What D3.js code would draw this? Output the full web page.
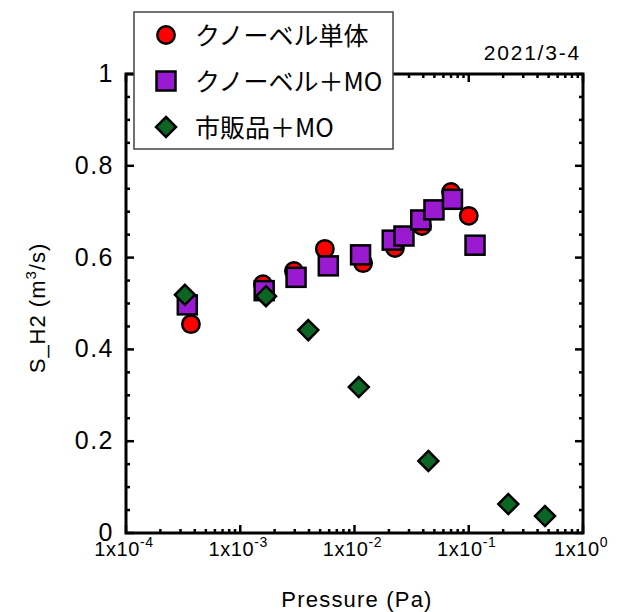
<!DOCTYPE html>
<html><head><meta charset="utf-8">
<script src="https://cdn.jsdelivr.net/npm/d3@7"></script>
<style>body{margin:0;background:#fff}svg{display:block}</style>
</head><body>
<svg id="c" width="619" height="612"></svg>
<script>
const seriesNames = ["クノーベル単体", "クノーベル＋MO", "市販品＋MO"];
const pressureSolo = [3.7e-4, 1.58e-3, 2.95e-3, 5.5e-3, 1.19e-2, 2.26e-2, 3.9e-2, 7.0e-2, 0.1];
const speedSolo    = [0.455, 0.542, 0.571, 0.619, 0.588, 0.621, 0.669, 0.743, 0.691];
const pressureMO   = [3.44e-4, 1.62e-3, 3.08e-3, 5.9e-3, 1.13e-2, 2.14e-2, 2.71e-2, 3.8e-2, 4.96e-2, 7.2e-2, 0.1135];
const speedMO      = [0.497, 0.528, 0.557, 0.582, 0.606, 0.638, 0.647, 0.682, 0.704, 0.727, 0.627];
const pressureCom  = [3.28e-4, 1.68e-3, 3.94e-3, 1.09e-2, 4.43e-2, 0.222, 0.465];
const speedCom     = [0.519, 0.516, 0.442, 0.318, 0.157, 0.063, 0.037];
const xTickExps = [-4, -3, -2, -1, 0];
const yTicks = [0, 0.2, 0.4, 0.6, 0.8, 1];

const svg = d3.select("#c");
const L = 126, R = 583, T = 74, B = 533;
const x = d3.scaleLog().domain([1e-4, 1]).range([L, R]);
const y = d3.scaleLinear().domain([0, 1]).range([B, T]);
const font = "'Liberation Sans', Arial, Helvetica, sans-serif";

// minor/major ticks
const g = svg.append("g").attr("stroke", "#000").attr("stroke-width", 2.5);
const xMinor = [];
for (let e = -4; e < 0; e++) for (let k = 2; k <= 9; k++) xMinor.push(k * Math.pow(10, e));
xMinor.forEach(v => {
  g.append("line").attr("x1", x(v)).attr("x2", x(v)).attr("y1", B).attr("y2", B - 4);
  g.append("line").attr("x1", x(v)).attr("x2", x(v)).attr("y1", T).attr("y2", T + 4);
});
xTickExps.forEach(e => {
  const v = Math.pow(10, e);
  g.append("line").attr("x1", x(v)).attr("x2", x(v)).attr("y1", B).attr("y2", B - 8);
  g.append("line").attr("x1", x(v)).attr("x2", x(v)).attr("y1", T).attr("y2", T + 8);
});
d3.range(0, 1.0001, 0.05).forEach((v, i) => {
  const len = (i % 4 === 0) ? 8 : 4;
  g.append("line").attr("x1", L).attr("x2", L + len).attr("y1", y(v)).attr("y2", y(v));
  g.append("line").attr("x1", R).attr("x2", R - len).attr("y1", y(v)).attr("y2", y(v));
});
svg.append("rect").attr("x", L).attr("y", T).attr("width", R - L).attr("height", B - T)
  .attr("fill", "none").attr("stroke", "#000").attr("stroke-width", 3);

// tick labels
yTicks.forEach(v => {
  svg.append("text").attr("x", L - 12).attr("y", y(v) + 8).attr("text-anchor", "end")
    .attr("font-family", font).attr("font-size", 25).attr("letter-spacing", 1.5)
    .text(v === 0 || v === 1 ? String(v) : v.toFixed(1));
});
xTickExps.forEach(e => {
  const t = svg.append("text").attr("x", x(Math.pow(10, e)) - 2).attr("y", 556).attr("text-anchor", "middle")
    .attr("font-family", font).attr("font-size", 20).attr("letter-spacing", 0.6);
  t.append("tspan").text("1x10");
  t.append("tspan").attr("dy", -9).attr("font-size", 14).text(String(e));
});

// axis titles
svg.append("text").attr("x", 357).attr("y", 607).attr("text-anchor", "middle")
  .attr("font-family", font).attr("font-size", 22).attr("letter-spacing", 1.2).text("Pressure (Pa)");
const yt = svg.append("text").attr("transform", "translate(45,308) rotate(-90)").attr("text-anchor", "middle")
  .attr("font-family", font).attr("font-size", 22).attr("letter-spacing", 1);
yt.append("tspan").text("S_H2 (m");
yt.append("tspan").attr("dy", -9).attr("font-size", 15).text("3");
yt.append("tspan").attr("dy", 9).text("/s)");

svg.append("text").attr("x", 581).attr("y", 60).attr("text-anchor", "end")
  .attr("font-family", font).attr("font-size", 21).attr("letter-spacing", 1.8).text("2021/3-4");

// markers
const colors = ["#ff0000", "#9a1ad2", "#0b6623"];
function marker(sel, type, cx, cy, fill) {
  if (type === 0) sel.append("circle").attr("cx", cx).attr("cy", cy).attr("r", 8.7)
    .attr("fill", fill).attr("stroke", "#000").attr("stroke-width", 2.5);
  else if (type === 1) sel.append("rect").attr("x", cx - 9.5).attr("y", cy - 9.5).attr("width", 19).attr("height", 19)
    .attr("fill", fill).attr("stroke", "#000").attr("stroke-width", 2.5);
  else sel.append("path").attr("d", `M${cx},${cy - 10}L${cx + 10},${cy}L${cx},${cy + 10}L${cx - 10},${cy}Z`)
    .attr("fill", fill).attr("stroke", "#000").attr("stroke-width", 2.5).attr("stroke-linejoin", "miter");
}
const sets = [[pressureSolo, speedSolo], [pressureMO, speedMO], [pressureCom, speedCom]];
sets.forEach(([px, py], s) => {
  const gg = svg.append("g");
  px.forEach((p, i) => marker(gg, s, x(p), y(py[i]), colors[s]));
});

// legend
const lg = svg.append("g");
lg.append("rect").attr("x", 134).attr("y", 12).attr("width", 259).attr("height", 137)
  .attr("fill", "#fff").attr("stroke", "#444").attr("stroke-width", 1.5);
seriesNames.forEach((n, i) => {
  const cy = 35 + i * 46;
  marker(lg, i, 166, cy, colors[i]);
  lg.append("text").attr("x", 195).attr("y", cy + 10).attr("font-family", "'Noto Sans CJK JP', " + font)
    .attr("font-size", 25).text(n);
});
</script>
</body></html>
